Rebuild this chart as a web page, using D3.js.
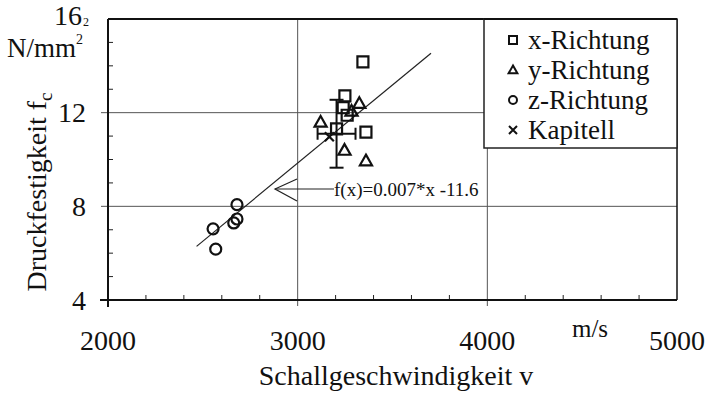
<!DOCTYPE html>
<html>
<head>
<meta charset="utf-8">
<script src="https://cdn.jsdelivr.net/npm/d3@7"></script>
<style>
  body { margin: 0; background: #fff; }
  svg { display: block; }
</style>
</head>
<body>
<svg id="chart" width="707" height="393"></svg>
<script>
const xRichtungV = [3344, 3249, 3240, 3261, 3360, 3205];
const xRichtungF = [14.17, 12.72, 12.21, 11.89, 11.17, 11.31];
const yRichtungV = [3325, 3284, 3121, 3247, 3360];
const yRichtungF = [12.4, 12.07, 11.6, 10.4, 9.95];
const zRichtungV = [2680, 2680, 2663, 2554, 2568];
const zRichtungF = [8.07, 7.46, 7.29, 7.04, 6.17];
const kapitellV = [3167];
const kapitellF = [10.97];

// Streuung (Mittelwert +/-)
const fehlerV = [3205];
const fehlerF = [11.1];
const fehlerDV = [100];
const fehlerDF = [1.45];

// Regressionsgerade, Endpunkte
const geradeV = [2467, 3703];
const geradeF = [6.29, 14.54];

const xTicks = [2000, 3000, 4000, 5000];
const yTicks = [4, 8, 12, 16];
const legende = ["x-Richtung", "y-Richtung", "z-Richtung", "Kapitell"];

const svg = d3.select("#chart")
    .attr("font-family", "'Liberation Serif', 'Times New Roman', 'DejaVu Serif', serif");
const links = 108, rechts = 677, oben = 19, unten = 300;

const x = d3.scaleLinear().domain([2000, 5000]).range([links, rechts]);
const y = d3.scaleLinear().domain([4, 16]).range([unten, oben]);

svg.append("rect").attr("width", 707).attr("height", 393).attr("fill", "#fff");

// Gitterlinien
svg.selectAll(".gx").data([3000, 4000]).join("line")
    .attr("x1", d => x(d)).attr("x2", d => x(d))
    .attr("y1", oben).attr("y2", unten + 6)
    .attr("stroke", "#555").attr("stroke-width", 1);
svg.selectAll(".gy").data([8, 12]).join("line")
    .attr("x1", links - 7).attr("x2", rechts)
    .attr("y1", d => y(d)).attr("y2", d => y(d))
    .attr("stroke", "#555").attr("stroke-width", 1);

// kleine Striche
let minorX = d3.range(2200, 5000, 200).filter(d => d % 1000 != 0);
svg.selectAll(".mx").data(minorX).join("line")
    .attr("x1", d => x(d)).attr("x2", d => x(d))
    .attr("y1", unten).attr("y2", unten - 5)
    .attr("stroke", "#222").attr("stroke-width", 1);
let minorY = d3.range(5, 16, 1).filter(d => d % 4 != 0);
svg.selectAll(".my").data(minorY).join("line")
    .attr("x1", links).attr("x2", links + 5)
    .attr("y1", d => y(d)).attr("y2", d => y(d))
    .attr("stroke", "#222").attr("stroke-width", 1);

// Rahmen
svg.append("line").attr("x1", links).attr("x2", links).attr("y1", oben).attr("y2", unten + 7)
    .attr("stroke", "#111").attr("stroke-width", 2);
svg.append("line").attr("x1", links - 8).attr("x2", rechts).attr("y1", unten).attr("y2", unten)
    .attr("stroke", "#111").attr("stroke-width", 2);
svg.append("line").attr("x1", links).attr("x2", rechts).attr("y1", oben).attr("y2", oben)
    .attr("stroke", "#111").attr("stroke-width", 2);
svg.append("line").attr("x1", rechts).attr("x2", rechts).attr("y1", oben).attr("y2", unten)
    .attr("stroke", "#111").attr("stroke-width", 1.5);

// Achsenbeschriftung
svg.selectAll(".tx").data(xTicks).join("text")
    .attr("x", d => x(d)).attr("y", 350)
    .attr("text-anchor", "middle").attr("font-size", "28px").attr("fill", "#111")
    .text(d => d);
svg.selectAll(".ty").data(yTicks).join("text")
    .attr("x", d => d == 16 ? 82 : 86).attr("y", d => y(d)).attr("dy", d => d == 16 ? "0.2em" : "0.35em")
    .attr("text-anchor", "end").attr("font-size", "28px").attr("fill", "#111")
    .text(d => d);
svg.append("text").attr("x", 83).attr("y", 26).attr("font-size", "12px").attr("fill", "#111").text("2");

svg.append("text").attr("x", 7).attr("y", 57).attr("font-size", "27px").attr("fill", "#111")
    .html('N/mm<tspan font-size="14px" dy="-13">2</tspan>');

svg.append("text").attr("x", 590).attr("y", 337).attr("text-anchor", "middle")
    .attr("font-size", "25px").attr("fill", "#111").text("m/s");

svg.append("text").attr("x", 396).attr("y", 385).attr("text-anchor", "middle")
    .attr("font-size", "28px").attr("fill", "#111").text("Schallgeschwindigkeit v");

svg.append("text").attr("transform", "translate(46,192) rotate(-90)")
    .attr("text-anchor", "middle").attr("font-size", "28px").attr("fill", "#111")
    .html('Druckfestigkeit f<tspan font-size="19px" dy="6">c</tspan>');

// Regressionsgerade
svg.append("line")
    .attr("x1", x(geradeV[0])).attr("y1", y(geradeF[0]))
    .attr("x2", x(geradeV[1])).attr("y2", y(geradeF[1]))
    .attr("stroke", "#222").attr("stroke-width", 1.2);

// Pfeil + Formel
let pfeilY = 189;
svg.append("line").attr("x1", 275).attr("x2", 334).attr("y1", pfeilY).attr("y2", pfeilY)
    .attr("stroke", "#222").attr("stroke-width", 1.2);
svg.append("path").attr("d", `M297,${pfeilY - 10} L275,${pfeilY} L297,${pfeilY + 12}`)
    .attr("fill", "none").attr("stroke", "#222").attr("stroke-width", 1.2);
svg.append("text").attr("x", 334).attr("y", 196).attr("font-size", "19px").attr("fill", "#111")
    .text("f(x)=0.007*x -11.6");

// Fehlerbalken
let fehler = fehlerV.map((v, i) => ({ v: v, f: fehlerF[i], dv: fehlerDV[i], df: fehlerDF[i] }));
let fb = svg.selectAll(".fehler").data(fehler).join("g").attr("class", "fehler")
    .attr("stroke", "#111").attr("stroke-width", 2);
fb.append("line").attr("x1", d => x(d.v)).attr("x2", d => x(d.v))
    .attr("y1", d => y(d.f + d.df)).attr("y2", d => y(d.f - d.df));
fb.append("line").attr("x1", d => x(d.v) - 7).attr("x2", d => x(d.v) + 7)
    .attr("y1", d => y(d.f + d.df)).attr("y2", d => y(d.f + d.df));
fb.append("line").attr("x1", d => x(d.v) - 7).attr("x2", d => x(d.v) + 7)
    .attr("y1", d => y(d.f - d.df)).attr("y2", d => y(d.f - d.df));
fb.append("line").attr("x1", d => x(d.v - d.dv)).attr("x2", d => x(d.v + d.dv))
    .attr("y1", d => y(d.f)).attr("y2", d => y(d.f));
fb.append("line").attr("x1", d => x(d.v - d.dv)).attr("x2", d => x(d.v - d.dv))
    .attr("y1", d => y(d.f) - 6).attr("y2", d => y(d.f) + 6);
fb.append("line").attr("x1", d => x(d.v + d.dv)).attr("x2", d => x(d.v + d.dv))
    .attr("y1", d => y(d.f) - 6).attr("y2", d => y(d.f) + 6);

// Symbole
function symbol(typ, s) {
    if (typ == "quadrat") return `M${-s / 2},${-s / 2}h${s}v${s}h${-s}Z`;
    if (typ == "dreieck") return `M0,${-s * 0.55}L${s * 0.55},${s * 0.42}L${-s * 0.55},${s * 0.42}Z`;
    if (typ == "kreis") return `M${s / 2},0A${s / 2},${s / 2} 0 1,1 ${-s / 2},0A${s / 2},${s / 2} 0 1,1 ${s / 2},0`;
    return `M${-s / 2},${-s / 2}L${s / 2},${s / 2}M${s / 2},${-s / 2}L${-s / 2},${s / 2}`;
}

let reihen = [
    { typ: "quadrat", v: xRichtungV, f: xRichtungF },
    { typ: "dreieck", v: yRichtungV, f: yRichtungF },
    { typ: "kreis", v: zRichtungV, f: zRichtungF },
    { typ: "kreuz", v: kapitellV, f: kapitellF }
];

reihen.forEach(function (r) {
    svg.selectAll(".p-" + r.typ)
        .data(r.v.map((v, i) => ({ v: v, f: r.f[i] })))
        .join("path")
        .attr("class", "p-" + r.typ)
        .attr("transform", d => `translate(${x(d.v)},${y(d.f)})`)
        .attr("d", symbol(r.typ, r.typ == "kreuz" ? 9 : 11))
        .attr("fill", "none").attr("stroke", "#111").attr("stroke-width", 2.2);
});

// Legende
let leg = svg.append("g");
leg.append("rect").attr("x", 484).attr("y", oben).attr("width", rechts - 484).attr("height", 129)
    .attr("fill", "#fff").attr("stroke", "#222").attr("stroke-width", 1.5);
svg.append("line").attr("x1", 484).attr("x2", rechts).attr("y1", oben).attr("y2", oben)
    .attr("stroke", "#111").attr("stroke-width", 2);
let eintrag = leg.selectAll(".eintrag").data(legende).join("g")
    .attr("transform", (d, i) => `translate(0,${40 + i * 30})`);
eintrag.append("path")
    .attr("transform", "translate(513,0)")
    .attr("d", (d, i) => symbol(reihen[i].typ, 8))
    .attr("fill", "none").attr("stroke", "#111").attr("stroke-width", 2);
eintrag.append("text").attr("x", 528).attr("dy", "0.33em")
    .attr("font-size", "27px").attr("fill", "#111").text(d => d);
</script>
</body>
</html>
